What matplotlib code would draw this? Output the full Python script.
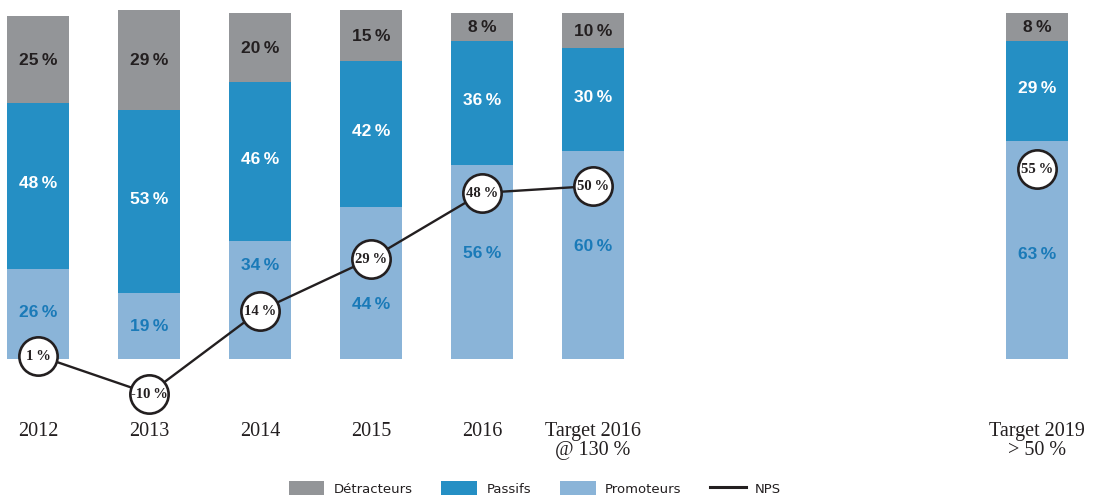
import numpy as np
import matplotlib
matplotlib.use("Agg")
import matplotlib.pyplot as plt
from matplotlib.patches import Patch
from matplotlib.lines import Line2D

# data
labels = ["2012", "2013", "2014", "2015", "2016", "Target 2016\n@ 130 %", "Target 2019\n> 50 %"]
slots = [0, 1, 2, 3, 4, 5, 9]
promoteurs = [26, 19, 34, 44, 56, 60, 63]
passifs = [48, 53, 46, 42, 36, 30, 29]
detracteurs = [25, 29, 20, 15, 8, 10, 8]
nps = [1, -10, 14, 29, 48, 50, 55]

# where the promoteurs label sits (shifted to dodge the NPS circles)
promo_label_shift = [0.7, 0.1, 10.3, -6.0, 2.8, 2.8, -1.0]

c_det = "#939598"
c_pas = "#258FC4"
c_pro = "#8AB4D8"
c_dark = "#231F20"
c_txt_pro = "#1A7AB8"

fig = plt.figure(figsize=(10.94, 5.02), dpi=100)
ax = fig.add_axes([0, 0, 1, 1])
ax.set_xlim(-38 / 111, (1094 - 38) / 111)
ax.set_ylim(-(502 - 360) / 3.46, 360 / 3.46)
ax.axis("off")

x = np.array(slots, dtype=float)
pro = np.array(promoteurs)
pas = np.array(passifs)
det = np.array(detracteurs)
w = 0.565

ax.bar(x, pro, width=w, color=c_pro, zorder=1)
ax.bar(x, pas, width=w, bottom=pro, color=c_pas, zorder=1)
ax.bar(x, det, width=w, bottom=pro + pas, color=c_det, zorder=1)

vfont = dict(family="Liberation Sans", weight="bold", size=12.5, ha="center", va="center")
for i in range(len(x)):
    ax.text(x[i], pro[i] / 2 + promo_label_shift[i], f"{pro[i]}\u2009%", color=c_txt_pro, **vfont)
    ax.text(x[i], pro[i] + pas[i] / 2 + 1, f"{pas[i]}\u2009%", color="white", **vfont)
    ax.text(x[i], pro[i] + pas[i] + det[i] / 2, f"{det[i]}\u2009%", color=c_dark, **vfont)

# NPS line (only up to target 2016), circles on every point
ax.plot(x[:6], nps[:6], color=c_dark, lw=1.7, zorder=2)
ax.scatter(x, nps, s=760, facecolor="white", edgecolor=c_dark, linewidth=1.9, zorder=3)
for i in range(len(x)):
    ax.text(x[i], nps[i], f"{nps[i]}\u2009%", family="Liberation Serif", weight="bold",
            size=10.5, ha="center", va="center", color=c_dark, zorder=4)

for i in range(len(x)):
    ax.text(x[i], -18.0, labels[i], family="Liberation Serif", size=14.5, ha="center",
            va="top", linespacing=1.0, color=c_dark)

handles = [
    Patch(facecolor=c_det, edgecolor="none", label="Détracteurs"),
    Patch(facecolor=c_pas, edgecolor="none", label="Passifs"),
    Patch(facecolor=c_pro, edgecolor="none", label="Promoteurs"),
    Line2D([0], [0], color=c_dark, lw=2.2, label="NPS"),
]
fig.legend(handles=handles, loc="center", bbox_to_anchor=(0.489, 1 - 489 / 502), ncol=4,
           frameon=False, prop=dict(family="DejaVu Sans", size=9.5), handlelength=2.7,
           handleheight=1.3, handletextpad=0.7, columnspacing=2.2, labelcolor=c_dark)

fig.savefig("out.png", dpi=100)
